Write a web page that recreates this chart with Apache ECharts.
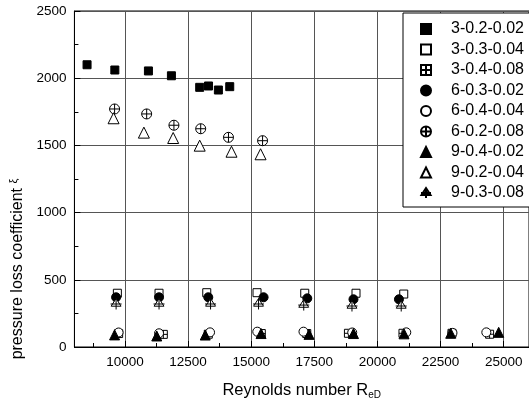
<!DOCTYPE html>
<html>
<head>
<meta charset="utf-8">
<script src="https://cdn.jsdelivr.net/npm/echarts@6/dist/echarts.min.js"></script>
<style>
  html, body { margin: 0; padding: 0; background: #fff; }
  #chart { width: 529px; height: 405px; }
</style>
</head>
<body>
<div id="chart"></div>
<script>
// Axis ticks
const xMajorTicks = [10000, 12500, 15000, 17500, 20000, 22500, 25000];
const xMinorTicks = [8750, 11250, 13750, 16250, 18750, 21250, 23750];

// Series names (geometry codes)
const seriesNames = [
  '3-0.2-0.02', '3-0.3-0.04', '3-0.4-0.08',
  '6-0.3-0.02', '6-0.4-0.04', '6-0.2-0.08',
  '9-0.4-0.02', '9-0.2-0.04', '9-0.3-0.08'
];

// [Reynolds number, pressure loss coefficient]
const s3_02_002 = [[8500, 2100], [9600, 2061], [10930, 2054], [11840, 2018], [12960, 1932], [13310, 1942], [13700, 1912], [14150, 1937]];
const s3_03_004 = [[9700, 400], [11350, 400], [13240, 404], [15230, 404], [17120, 400], [19150, 400], [21040, 394]];
const s3_04_008 = [[9750, 100], [11520, 94], [13300, 95], [15400, 100], [17200, 100], [18850, 102], [21010, 102], [22950, 102], [24440, 95]];
const s6_03_002 = [[9650, 370], [11350, 370], [13300, 370], [15490, 370], [17220, 362], [19050, 355], [20850, 355]];
const s6_04_004 = [[9750, 108], [11350, 102], [13370, 109], [15240, 114], [17070, 114], [19000, 108], [21140, 109], [22970, 105], [24310, 109]];
const s6_02_008 = [[9590, 1771], [10860, 1734], [11940, 1650], [13000, 1624], [14100, 1560], [15450, 1535]];
const s9_04_002 = [[9590, 90], [11260, 82], [13180, 89], [15390, 100], [17290, 94], [19050, 100], [21050, 98], [22900, 102], [24800, 109]];
const s9_02_004 = [[9550, 1702], [10750, 1595], [11910, 1555], [12960, 1498], [14220, 1453], [15370, 1434]];
const s9_03_008 = [[9650, 320], [11350, 320], [13390, 320], [15290, 320], [17080, 312], [18990, 305], [20940, 305]];

const seriesData = [s3_02_002, s3_03_004, s3_04_008, s6_03_002, s6_04_004, s6_02_008, s9_04_002, s9_02_004, s9_03_008];

// Marker shapes
const squareCross = 'path://M0,0H10V10H0Z M5,0V10 M0,5H10';
const circleCross = 'path://M5,0A5,5,0,1,1,5,10A5,5,0,1,1,5,0Z M0,5H10 M5,0V10';
const triangleCross = 'path://M5,0L9.5,7L0.5,7Z M5,0V10 M0,5H10';

const markerStyles = [
  { symbol: 'rect', size: 8, fill: '#000' },
  { symbol: 'rect', size: 8, fill: '#fff' },
  { symbol: squareCross, size: 8, fill: '#fff' },
  { symbol: 'circle', size: 9, fill: '#000' },
  { symbol: 'circle', size: 9, fill: '#fff' },
  { symbol: circleCross, size: 10, fill: '#fff' },
  { symbol: 'triangle', size: 10, fill: '#000' },
  { symbol: 'triangle', size: 11, fill: '#fff' },
  { symbol: triangleCross, size: 11, fill: '#fff' }
];

const FONT = '"Liberation Sans", Arial, Helvetica, sans-serif';
const plain = v => String(v);

const chart = echarts.init(document.getElementById('chart'), null, { renderer: 'canvas' });

chart.setOption({
  backgroundColor: '#fff',
  animation: false,
  grid: {
    left: 72, top: 11, right: -2, bottom: 58,
    show: true, borderColor: '#000', borderWidth: 1, backgroundColor: 'transparent'
  },
  legend: {
    orient: 'vertical',
    left: 403, top: 13,
    padding: [8, 6, 6, 17],
    itemWidth: 10, itemHeight: 10, itemGap: 4.5,
    symbolKeepAspect: true,
    backgroundColor: '#fff',
    borderColor: '#000', borderWidth: 1, borderRadius: 0,
    selectedMode: false,
    textStyle: { fontFamily: FONT, fontSize: 16, color: '#000', lineHeight: 16, padding: [0, 0, 0, 15] },
    data: seriesNames
  },
  xAxis: [{
    type: 'value', min: 8000, max: 26000,
    name: 'Reynolds number R{sub|eD}',
    nameLocation: 'middle', nameGap: 33,
    nameTextStyle: {
      fontFamily: FONT, fontSize: 16.5, color: '#000',
      rich: { sub: { fontFamily: FONT, fontSize: 10, color: '#000', padding: [10, 0, 0, 0] } }
    },
    axisLine: { show: true, lineStyle: { color: '#000', width: 1 } },
    axisTick: { show: true, inside: true, length: 6, customValues: xMajorTicks, lineStyle: { color: '#000' } },
    axisLabel: { customValues: xMajorTicks, formatter: plain, fontFamily: FONT, fontSize: 13.5, color: '#000', margin: 8 },
    splitLine: { show: true, lineStyle: { color: '#555', width: 1 } }
  }, {
    type: 'value', min: 8000, max: 26000, position: 'bottom',
    axisLine: { show: false },
    axisTick: { show: true, inside: true, length: 4, customValues: xMinorTicks, lineStyle: { color: '#000' } },
    axisLabel: { show: false },
    splitLine: { show: false }
  }],
  yAxis: {
    type: 'value', min: 0, max: 2500, interval: 500,
    name: '{a|pressure loss coefficient} {b|ξ}',
    nameLocation: 'middle', nameGap: 27, nameRotate: 90,
    nameTextStyle: {
      fontFamily: FONT, fontSize: 16, color: '#000',
      padding: [0, 180, 0, 0],
      rich: {
        a: { fontFamily: FONT, fontSize: 16, color: '#000' },
        b: { fontFamily: FONT, fontSize: 11, color: '#000', padding: [0, 0, 8, 0] }
      }
    },
    axisLine: { show: true, lineStyle: { color: '#000', width: 1 } },
    axisTick: { show: true, inside: true, length: 6, lineStyle: { color: '#000' } },
    minorTick: { show: true, splitNumber: 2, length: 4, lineStyle: { color: '#000' } },
    axisLabel: { formatter: plain, fontFamily: FONT, fontSize: 13.5, color: '#000', margin: 8 },
    splitLine: { show: true, lineStyle: { color: '#555', width: 1 } }
  },
  series: seriesNames.map((name, i) => ({
    name: name,
    type: 'scatter',
    xAxisIndex: 0,
    data: seriesData[i],
    symbol: markerStyles[i].symbol,
    symbolSize: markerStyles[i].size,
    itemStyle: { color: markerStyles[i].fill, borderColor: '#000', borderWidth: 1, opacity: 1 },
    emphasis: { disabled: true }
  }))
});
</script>
</body>
</html>
